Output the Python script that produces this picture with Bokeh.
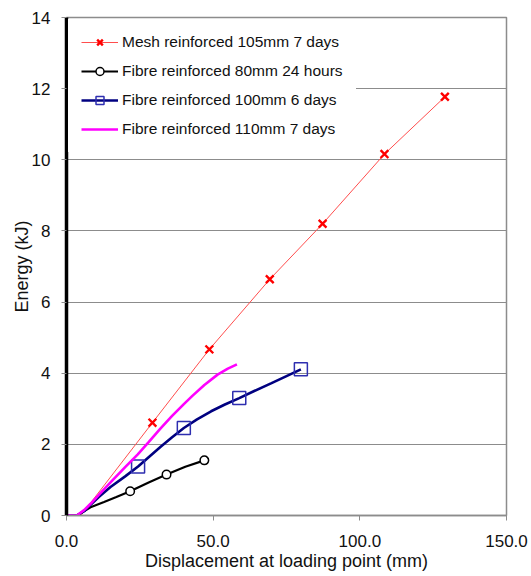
from bokeh.plotting import figure
from bokeh.models import FixedTicker, NumeralTickFormatter, Range1d, Legend, LegendItem
from bokeh.embed import file_html
from bokeh.resources import INLINE

# ---- data ----
mesh_line_x = [0, 4.9, 29.3, 48.7, 69.3, 87.3, 108.4, 129.0]
mesh_line_y = [0, 0, 2.61, 4.67, 6.64, 8.20, 10.16, 11.77]
mesh_mark_x = [29.3, 48.7, 69.3, 87.3, 108.4, 129.0]
mesh_mark_y = [2.61, 4.67, 6.64, 8.20, 10.16, 11.77]

f80_line_x = [0, 3.5, 8.2, 12.8, 17.0, 21.7, 28.0, 34.1, 40.5, 47.0]
f80_line_y = [0, 0, 0.23, 0.38, 0.52, 0.68, 0.93, 1.15, 1.37, 1.55]
f80_mark_x = [21.7, 34.1, 47.0]
f80_mark_y = [0.68, 1.15, 1.55]

f100_line_x = [0, 3.5, 6, 8.2, 11, 15, 20, 24.4, 28, 32.2, 36, 40.0, 44.5, 49.3, 54, 58.9, 64, 69.9, 75, 79.9]
f100_line_y = [0, 0, 0.12, 0.30, 0.52, 0.80, 1.10, 1.38, 1.64, 1.94, 2.20, 2.46, 2.70, 2.93, 3.12, 3.30, 3.50, 3.72, 3.92, 4.11]
f100_mark_x = [24.4, 40.0, 58.9, 79.9]
f100_mark_y = [1.38, 2.46, 3.30, 4.11]

f110_line_x = [0, 3.5, 6, 8.2, 11, 15, 20, 24.3, 28, 32, 36, 40, 43, 47, 51.5, 55, 58.1]
f110_line_y = [0, 0, 0.15, 0.33, 0.58, 0.93, 1.36, 1.72, 2.06, 2.44, 2.80, 3.13, 3.37, 3.67, 3.96, 4.13, 4.25]

series_names = ["Mesh reinforced 105mm 7 days", "Fibre reinforced 80mm 24 hours",
                "Fibre reinforced 100mm 6 days", "Fibre reinforced 110mm 7 days"]

x_ticks = [0, 50, 100, 150]
y_ticks = [0, 2, 4, 6, 8, 10, 12, 14]

FONT = "Liberation Sans"
GREY = "#8c8c8c"

p = figure(output_backend="svg", toolbar_location=None,
           width=531, height=576,
           min_border_left=66, min_border_right=25, min_border_top=17, min_border_bottom=61,
           x_range=Range1d(0, 150), y_range=Range1d(0, 14))

p.background_fill_color = "white"
p.border_fill_color = "white"
p.outline_line_color = GREY
p.outline_line_width = 1.5

p.xgrid.grid_line_color = None
p.ygrid.grid_line_color = GREY
p.ygrid.grid_line_width = 1.2
p.ygrid.ticker = FixedTicker(ticks=y_ticks)

p.xaxis.ticker = FixedTicker(ticks=x_ticks)
p.yaxis.ticker = FixedTicker(ticks=y_ticks)
p.xaxis.formatter = NumeralTickFormatter(format="0.0")
p.yaxis.formatter = NumeralTickFormatter(format="0")

for ax in (p.xaxis, p.yaxis):
    ax.minor_tick_line_color = None
    ax.major_tick_in = 0
    ax.major_tick_out = 5
    ax.major_tick_line_color = GREY
    ax.major_label_text_font = FONT
    ax.major_label_text_font_size = "17px"
    ax.major_label_text_color = "#111111"
    ax.axis_label_text_font = FONT
    ax.axis_label_text_font_size = "18px"
    ax.axis_label_text_font_style = "normal"
    ax.axis_label_text_color = "#111111"

p.xaxis.axis_label = "Displacement at loading point (mm)"
p.yaxis.axis_label = "Energy (kJ)"
p.xaxis.axis_line_color = GREY
p.xaxis.axis_line_width = 1.5
p.yaxis.axis_line_color = "black"
p.yaxis.axis_line_width = 3.5
p.xaxis.major_label_standoff = 14
p.xaxis.axis_label_standoff = 1
p.yaxis.major_label_standoff = 11
p.yaxis.axis_label_standoff = -3

# ---- series ----
r_mesh_l = p.line(mesh_line_x, mesh_line_y, line_color="#ff4d4d", line_width=1)
r_mesh_m = p.scatter(mesh_mark_x, mesh_mark_y, marker="x", size=11, line_color="#ff0000", line_width=2.4)

r_f80_l = p.line(f80_line_x, f80_line_y, line_color="black", line_width=2.2)
r_f80_m = p.scatter(f80_mark_x, f80_mark_y, marker="circle", size=8.5, line_color="black",
                    line_width=1.5, fill_color="white")

r_f100_l = p.line(f100_line_x, f100_line_y, line_color="#000080", line_width=2.6)
r_f100_m = p.scatter(f100_mark_x, f100_mark_y, marker="square", size=13, line_color="#2e2eb0",
                     line_width=1.5, fill_alpha=0)

r_f110_l = p.line(f110_line_x, f110_line_y, line_color="#ff00ff", line_width=2.6)

legend = Legend(items=[
    LegendItem(label=series_names[0], renderers=[r_mesh_l, r_mesh_m]),
    LegendItem(label=series_names[1], renderers=[r_f80_l, r_f80_m]),
    LegendItem(label=series_names[2], renderers=[r_f100_l, r_f100_m]),
    LegendItem(label=series_names[3], renderers=[r_f110_l]),
], location="top_left")
legend.margin = 2
legend.padding = 12
legend.spacing = 9
legend.glyph_width = 37
legend.glyph_height = 20
legend.label_height = 20
legend.label_standoff = 4
legend.label_text_font = FONT
legend.label_text_font_size = "15.5px"
legend.label_text_color = "#111111"
legend.border_line_color = "white"
legend.border_line_width = 1
legend.background_fill_color = "white"
legend.background_fill_alpha = 1.0
p.add_layout(legend, "center")

open("out.html", "w").write(file_html(p, INLINE))
